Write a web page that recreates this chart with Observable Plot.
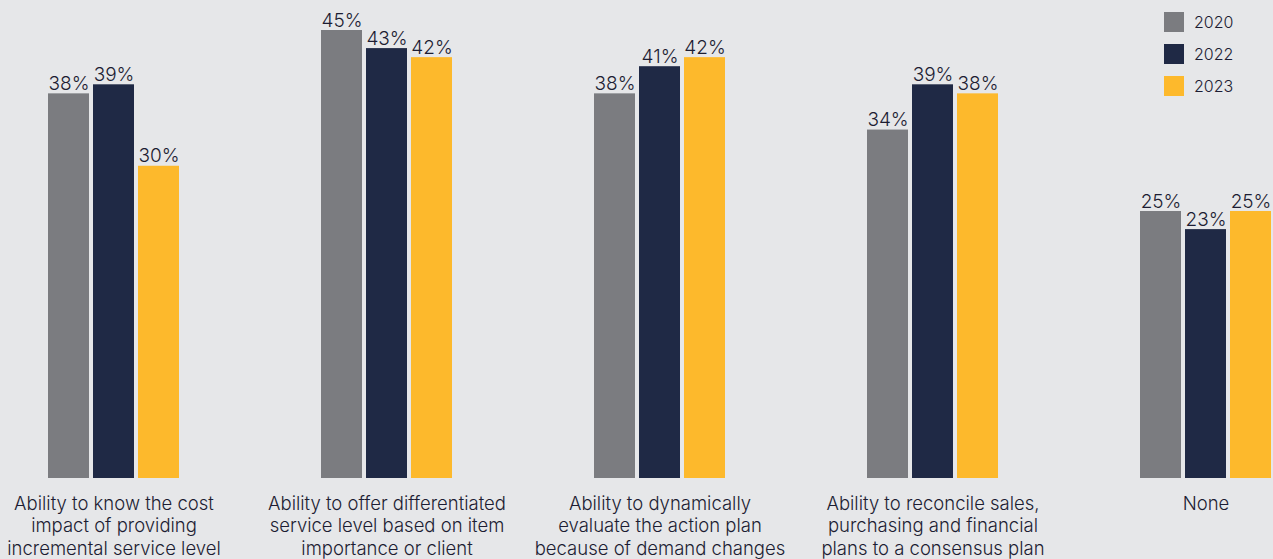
<!DOCTYPE html>
<html>
<head>
<meta charset="utf-8">
<script src="https://cdn.jsdelivr.net/npm/d3@7"></script>
<script src="https://cdn.jsdelivr.net/npm/@observablehq/plot@0.6"></script>
<style>
  html, body { margin: 0; padding: 0; background: #e6e7e9; }
  #wrap { position: relative; width: 1273px; height: 559px; overflow: hidden; font-family: Inter, "Noto Sans", sans-serif; }
  #legend { position: absolute; left: 1164px; top: 12px; }
  .li { display: flex; align-items: center; height: 20px; margin-bottom: 12px; font-size: 16px; font-weight: 300; color: #1d1d33; }
  .sw { width: 20px; height: 20px; margin-right: 10px; }
</style>
</head>
<body>
<div id="wrap"><div id="chart"></div><div id="legend"></div></div>
<script>
const categories = [
  "Ability to know the cost impact of providing incremental service level",
  "Ability to offer differentiated service level based on item importance or client",
  "Ability to dynamically evaluate the action plan because of demand changes",
  "Ability to reconcile sales, purchasing and financial plans to a consensus plan",
  "None"
];
const categoryLabels = [
  "Ability to know the cost\nimpact of providing\nincremental service level",
  "Ability to offer differentiated\nservice level based on item\nimportance or client",
  "Ability to dynamically\nevaluate the action plan\nbecause of demand changes",
  "Ability to reconcile sales,\npurchasing and financial\nplans to a consensus plan",
  "None"
];
const years = ["2020", "2022", "2023"];
const values2020 = [38, 45, 38, 34, 25];
const values2022 = [39, 43, 41, 39, 23];
const values2023 = [30, 42, 42, 38, 25];
const colors = ["#7b7c80", "#1f2945", "#fdb92c"];
const yFloor = -4.5;

const series = [values2020, values2022, values2023];
const data = [];
categories.forEach((c, i) => {
  years.forEach((y, j) => data.push({cat: c, year: y, value: series[j][i]}));
});
const labelOf = new Map(categories.map((c, i) => [c, categoryLabels[i]]));

const chart = Plot.plot({
  width: 1273,
  height: 559,
  marginLeft: 47,
  marginRight: 2,
  marginTop: 30,
  marginBottom: 81,
  style: {background: "transparent", fontFamily: "Inter, 'Noto Sans', sans-serif", color: "#1d1d33"},
  fx: {domain: categories, paddingInner: 0.5206, paddingOuter: 0, axis: null},
  x: {domain: years, paddingInner: 0.1, paddingOuter: 0, axis: null},
  y: {domain: [yFloor, 45], axis: null},
  color: {domain: years, range: colors},
  marks: [
    Plot.barY(data, {fx: "cat", x: "year", y1: yFloor, y2: "value", fill: "year"}),
    Plot.text(data, {fx: "cat", x: "year", y: "value", text: d => d.value + "%", lineAnchor: "bottom", dy: -4, fontSize: 19, fontWeight: 300, fill: "#1d1d33"}),
    Plot.axisFx({domain: categories, anchor: "bottom", tickSize: 0, tickPadding: 15, tickFormat: c => labelOf.get(c), fontSize: 18.5, fontWeight: 300, lineHeight: 1.22, fill: "#1d1d33", label: null})
  ]
});
document.getElementById("chart").appendChild(chart);

const legend = document.getElementById("legend");
years.forEach((y, i) => {
  const row = document.createElement("div");
  row.className = "li";
  const sw = document.createElement("div");
  sw.className = "sw";
  sw.style.background = colors[i];
  const t = document.createElement("span");
  t.textContent = y;
  row.appendChild(sw); row.appendChild(t);
  legend.appendChild(row);
});
</script>
</body>
</html>
